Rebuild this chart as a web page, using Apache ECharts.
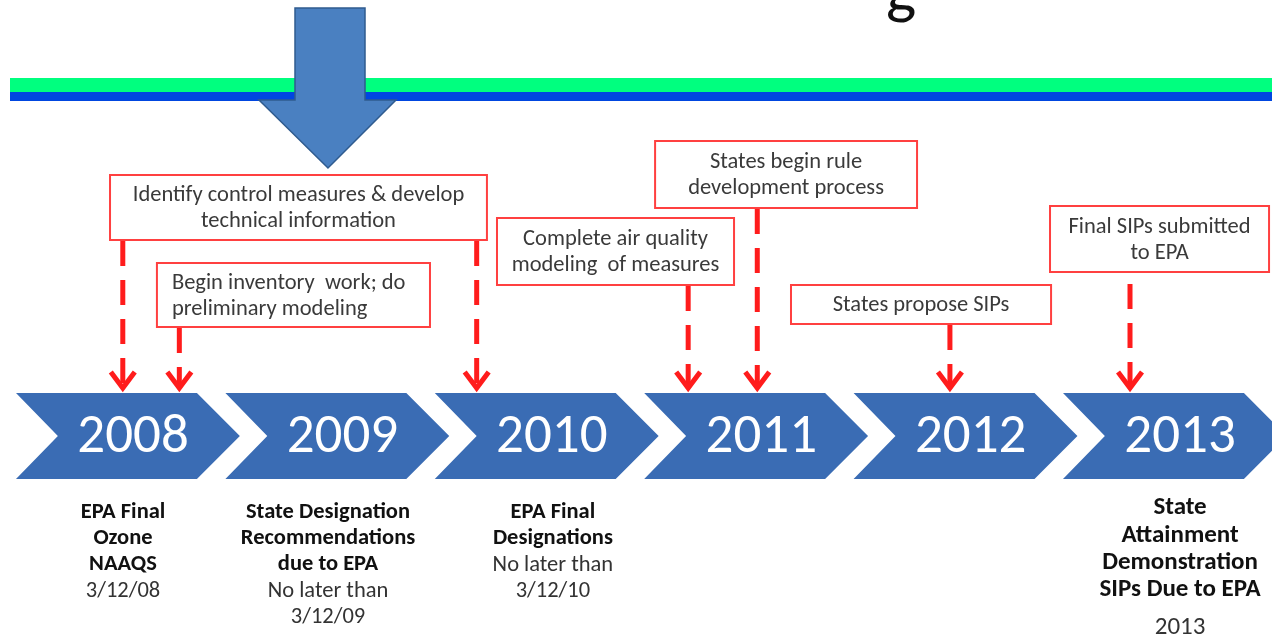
<!DOCTYPE html>
<html>
<head>
<meta charset="utf-8">
<script src="https://cdn.jsdelivr.net/npm/echarts@6/dist/echarts.min.js"></script>
<style>
  html, body { margin: 0; padding: 0; background: #ffffff; }
  #chart { width: 1272px; height: 638px; }
</style>
</head>
<body>
<div id="chart"></div>
<script>
// ---------------- DATA ----------------
const years = [2008, 2009, 2010, 2011, 2012, 2013];

const activityLabels = [
  'Identify control measures & develop\ntechnical information',
  'Begin inventory  work; do\npreliminary modeling',
  'Complete air quality\nmodeling  of measures',
  'States begin rule\ndevelopment process',
  'States propose SIPs',
  'Final SIPs submitted\nto EPA'
];

// time (in years) at which each dashed arrow lands on the timeline
const arrowYears = [2008.51, 2008.78, 2010.2, 2011.21, 2011.54, 2012.46, 2013.32];
// which activity box each arrow comes from
const arrowActivity = [0, 1, 0, 2, 3, 4, 5];

const milestoneYears = [2008, 2009, 2010, 2013];
const milestoneTitles = [
  ['EPA Final', 'Ozone', 'NAAQS'],
  ['State Designation', 'Recommendations', 'due to EPA'],
  ['EPA Final', 'Designations'],
  ['State', 'Attainment', 'Demonstration', 'SIPs Due to EPA']
];
const milestoneNotes = [
  ['3/12/08'],
  ['No later than', '3/12/09'],
  ['No later than', '3/12/10'],
  ['2013']
];

// ---------------- LAYOUT / STYLE ----------------
const PX_PER_YEAR = 209.4;
const X_MIN = 2008 - 16 / PX_PER_YEAR;
const X_MAX = 2008 + (1272 - 16) / PX_PER_YEAR;
const CHEV = { top: 393, bottom: 479, body: 0.864, tip: 0.205, notch: 0.2, textOffset: 0.559 };
const boxLayout = [
  { x0: 2008.449, x1: 2010.249, y0: 175, y1: 240, align: 'center' },
  { x0: 2008.673, x1: 2009.977, y0: 263, y1: 327, align: 'left' },
  { x0: 2010.297, x1: 2011.429, y0: 218, y1: 285, align: 'center' },
  { x0: 2011.052, x1: 2012.303, y0: 141, y1: 208, align: 'center' },
  { x0: 2011.701, x1: 2012.943, y0: 285, y1: 324, align: 'center' },
  { x0: 2012.938, x1: 2013.984, y0: 206, y1: 272, align: 'center' }
];
const arrowGapStart = [0, 0, 0, 0, 0, 0, 11];
const ARROW_TIP = 391;
const milestoneLayout = [
  { cx: 2008.511, y0: 512, lh: 26, fs: 22.5, noteGap: 27 },
  { cx: 2009.49, y0: 512, lh: 26, fs: 22.5, noteGap: 27 },
  { cx: 2010.564, y0: 512, lh: 26, fs: 22.5, noteGap: 27 },
  { cx: 2013.559, y0: 508, lh: 27.3, fs: 25, noteGap: 38 }
];
const FONT = 'Carlito, Lato, "Open Sans", sans-serif';
const RED = '#ff1c1c';
const BOX_RED = '#ff4040';
const CHEV_BLUE = '#3a6cb4';

// ---------------- CHART ----------------
const chart = echarts.init(document.getElementById('chart'), null, { renderer: 'canvas' });

const option = {
  animation: false,
  backgroundColor: '#ffffff',
  grid: { left: 0, right: 0, top: 0, bottom: 0, containLabel: false },
  xAxis: { type: 'value', min: X_MIN, max: X_MAX, show: false },
  yAxis: { type: 'value', min: 0, max: 638, inverse: true, show: false },
  graphic: [
    { type: 'text', z: 1, style: { text: 'g', x: 886, y: 28, font: '64px ' + FONT, fill: '#111', verticalAlign: 'bottom' } },
    { type: 'rect', z: 1, shape: { x: 10, y: 78, width: 1262, height: 15 }, style: { fill: '#00ff7f' } },
    { type: 'rect', z: 1, shape: { x: 10, y: 92, width: 1262, height: 9 }, style: { fill: '#0046e0' } },
    { type: 'polygon', z: 3,
      shape: { points: [[295, 8], [365, 8], [365, 100], [396, 100], [328, 168], [259, 100], [295, 100]] },
      style: { fill: '#4a80c1', stroke: '#2f5b8f', lineWidth: 1.5 } }
  ],
  series: [
    {
      type: 'custom', name: 'years', z: 2,
      data: years.map(y => [y]),
      renderItem: function (params, api) {
        const y = api.value(0);
        const mid = (CHEV.top + CHEV.bottom) / 2;
        const p = (dx, py) => api.coord([y + dx, py]);
        const pts = [p(0, CHEV.top), p(CHEV.body, CHEV.top), p(CHEV.body + CHEV.tip, mid),
                     p(CHEV.body, CHEV.bottom), p(0, CHEV.bottom), p(CHEV.notch, mid)];
        const c = p(CHEV.textOffset, mid);
        return {
          type: 'group',
          children: [
            { type: 'polygon', shape: { points: pts }, style: { fill: CHEV_BLUE } },
            { type: 'text', style: { text: String(years[params.dataIndex]), x: c[0], y: c[1] + 2,
                align: 'center', verticalAlign: 'middle', fill: '#ffffff', font: '55px ' + FONT } }
          ]
        };
      }
    },
    {
      type: 'custom', name: 'activities', z: 4,
      data: activityLabels.map((t, i) => [i]),
      renderItem: function (params, api) {
        const i = params.dataIndex;
        const L = boxLayout[i];
        const a = api.coord([L.x0, L.y0]);
        const b = api.coord([L.x1, L.y1]);
        const tx = L.align === 'left' ? a[0] + 15 : (a[0] + b[0]) / 2;
        return {
          type: 'group',
          children: [
            { type: 'rect', shape: { x: a[0], y: a[1], width: b[0] - a[0], height: b[1] - a[1] },
              style: { fill: '#ffffff', stroke: BOX_RED, lineWidth: 2 } },
            { type: 'text', style: { text: activityLabels[i], x: tx, y: (a[1] + b[1]) / 2 + 1,
                align: L.align, verticalAlign: 'middle', fill: '#3a3a3a', font: '22.5px ' + FONT, lineHeight: 26 } }
          ]
        };
      }
    },
    {
      type: 'custom', name: 'arrows', z: 4,
      data: arrowYears.map(v => [v]),
      renderItem: function (params, api) {
        const i = params.dataIndex;
        const L = boxLayout[arrowActivity[i]];
        const top = api.coord([api.value(0), L.y1 + 1 + arrowGapStart[i]]);
        const tip = api.coord([api.value(0), ARROW_TIP]);
        const x = top[0];
        return {
          type: 'group',
          children: [
            { type: 'line', shape: { x1: x, y1: top[1], x2: x, y2: tip[1] - 3 },
              style: { stroke: RED, lineWidth: 5, lineDash: [25, 14] } },
            { type: 'polyline', shape: { points: [[x - 12, tip[1] - 19], [x, tip[1] - 3], [x + 12, tip[1] - 19]] },
              style: { stroke: RED, lineWidth: 5, fill: null, lineJoin: 'miter' } }
          ]
        };
      }
    },
    {
      type: 'custom', name: 'milestones', z: 4,
      data: milestoneYears.map(y => [y]),
      renderItem: function (params, api) {
        const i = params.dataIndex;
        const L = milestoneLayout[i];
        const children = [];
        const cx = api.coord([L.cx, 0])[0];
        milestoneTitles[i].forEach((t, k) => {
          children.push({ type: 'text', style: { text: t, x: cx, y: api.coord([L.cx, L.y0 + k * L.lh])[1],
            align: 'center', verticalAlign: 'middle', fill: '#111111', font: 'bold ' + L.fs + 'px ' + FONT } });
        });
        const nStart = L.y0 + (milestoneTitles[i].length - 1) * L.lh + L.noteGap;
        milestoneNotes[i].forEach((t, k) => {
          children.push({ type: 'text', style: { text: t, x: cx, y: api.coord([L.cx, nStart + k * 26])[1],
            align: 'center', verticalAlign: 'middle', fill: '#333333', font: L.fs + 'px ' + FONT } });
        });
        return { type: 'group', children: children };
      }
    }
  ]
};
chart.setOption(option);
</script>
</body>
</html>
